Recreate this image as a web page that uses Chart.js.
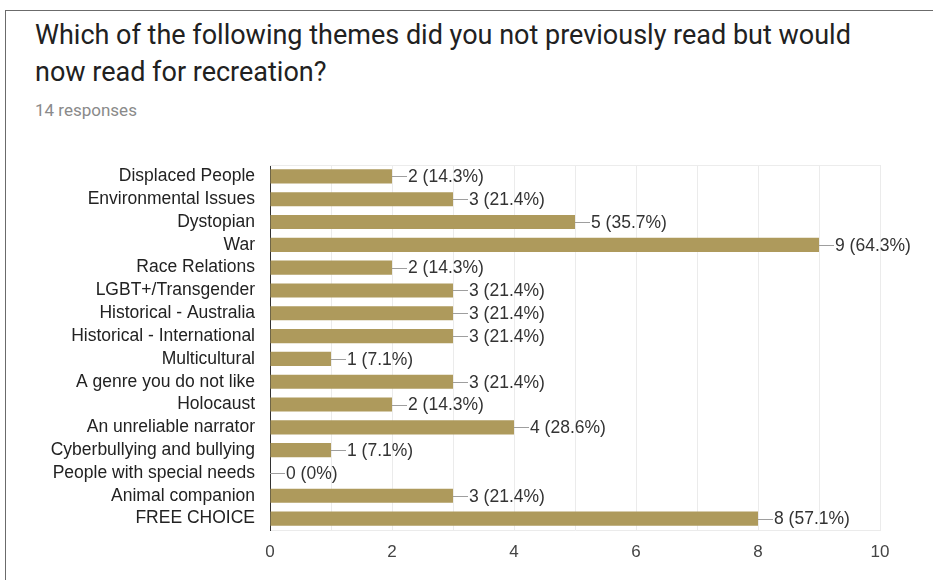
<!DOCTYPE html>
<html lang="en">
<head>
    <meta charset="UTF-8">
    <title>Themes for recreation</title>
    <script src="https://cdn.jsdelivr.net/npm/chart.js@4.4.0/dist/chart.umd.min.js"></script>
    <style>
        body { margin: 0; background: #fff; font-family: Roboto, "Noto Sans", sans-serif; }
        #page { position: relative; width: 933px; height: 580px; overflow: hidden; }
        #frame { position: absolute; left: 5px; top: 10px; width: 940px; height: 600px;
                 border-left: 1px solid #6b6b6b; border-top: 1px solid #6b6b6b; }
        #title { position: absolute; left: 35px; top: 17px; font-size: 27px; line-height: 37px; color: #212121; }
        #sub { position: absolute; left: 35px; top: 100px; font-size: 17px; color: #8a8a8a; }
        #wrap { position: absolute; left: 0; top: 0; width: 933px; height: 580px; }
    </style>
</head>
<body>
<div id="page">
    <div id="frame"></div>
    <div id="title">Which of the following themes did you not previously read but would<br>now read for recreation?</div>
    <div id="sub">14 responses</div>
    <div id="wrap"><canvas id="themeChart"></canvas></div>
</div>

<script>
    const themes = ['Displaced People', 'Environmental Issues', 'Dystopian', 'War', 'Race Relations',
        'LGBT+/Transgender', 'Historical - Australia', 'Historical - International', 'Multicultural',
        'A genre you do not like', 'Holocaust', 'An unreliable narrator', 'Cyberbullying and bullying',
        'People with special needs', 'Animal companion', 'FREE CHOICE']
    const counts = [2, 3, 5, 9, 2, 3, 3, 3, 1, 3, 2, 4, 1, 0, 3, 8]
    const totalResponses = 14
    const xTicks = [0, 2, 4, 6, 8, 10]

    const labelFont = '"Liberation Sans", Arial, sans-serif'

    function pctText(v){
        let p = (v / totalResponses * 100).toFixed(1)
        if(p.endsWith('.0')) p = p.slice(0, -2)
        return v + ' (' + p + '%)'
    }

    // leader line + "n (x%)" after each bar
    const barLabels = {
        id: 'barLabels',
        afterDatasetsDraw(chart){
            const c = chart.ctx
            const area = chart.chartArea
            c.save()
            c.strokeStyle = '#ececec'
            c.lineWidth = 1
            c.beginPath()
            c.moveTo(area.left, area.top + 0.5)
            c.lineTo(area.right, area.top + 0.5)
            c.stroke()

            const meta = chart.getDatasetMeta(0)
            c.font = '17.5px ' + labelFont
            c.textBaseline = 'middle'
            meta.data.forEach((bar, i) => {
                const x = bar.x
                const y = Math.round(bar.y) + 0.5
                c.strokeStyle = '#9e9e9e'
                c.beginPath()
                c.moveTo(x, y)
                c.lineTo(x + 15, y)
                c.stroke()
                c.fillStyle = '#333'
                c.fillText(pctText(counts[i]), x + 16, bar.y + 1)
            })
            c.restore()
        }
    }

    const ctx = document.getElementById('themeChart')

    const chart = new Chart(ctx, {
        type: 'bar',
        data: {
            labels: themes,
            datasets: [{
                data: counts,
                backgroundColor: '#ae9a5c',
                barPercentage: 0.62,
                categoryPercentage: 1
            }]
        },
        options: {
            indexAxis: 'y',
            responsive: true,
            maintainAspectRatio: false,
            animation: false,
            layout: { padding: { top: 165, right: 53, left: 0, bottom: 0 } },
            plugins: {
                legend: { display: false },
                tooltip: { enabled: false }
            },
            scales: {
                x: {
                    min: 0,
                    max: 10,
                    ticks: {
                        stepSize: 1,
                        autoSkip: false,
                        color: '#444',
                        font: { family: labelFont, size: 17 },
                        padding: 12,
                        callback: (v) => xTicks.includes(v) ? v : ''
                    },
                    grid: { color: '#ebebeb', drawTicks: false },
                    border: { color: '#ebebeb' },
                    afterFit(scale){ scale.height = 50 }
                },
                y: {
                    ticks: {
                        autoSkip: false,
                        color: '#222',
                        font: { family: labelFont, size: 17.5 },
                        padding: 15
                    },
                    grid: { display: false, drawTicks: false },
                    border: { color: '#333', width: 1 },
                    afterFit(scale){ scale.width = 270 }
                }
            }
        },
        plugins: [barLabels]
    })
</script>
</body>
</html>
